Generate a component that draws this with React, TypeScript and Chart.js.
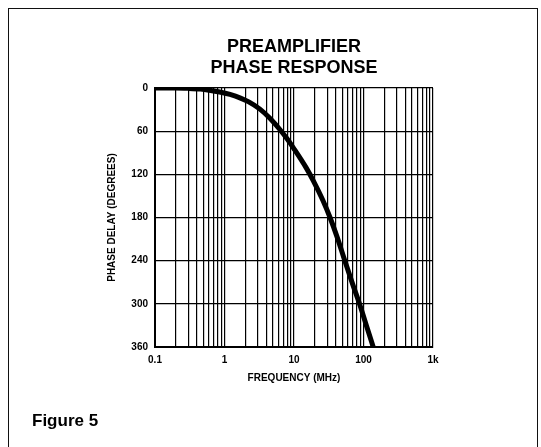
import React, { useEffect, useRef } from "react";
import { Chart, registerables } from "chart.js";

Chart.register(...registerables);

const titleLines = ["PREAMPLIFIER", "PHASE RESPONSE"];
const figureLabel = "Figure 5";
const xAxisTitle = "FREQUENCY (MHz)";
const yAxisTitle = "PHASE DELAY (DEGREES)";

const frequencyMHz = [0.1, 0.2, 0.3, 0.45, 0.6, 0.85, 1.2, 1.7, 2.2, 3.2, 4.5, 6.3, 8, 10, 15, 19, 26, 33, 42, 53, 70, 89, 110, 138];
const phaseDeg = [0, 0, 0.5, 1.5, 3, 5.5, 9, 14, 19, 29, 42, 58, 71, 84.5, 111, 129, 156, 180, 208, 238, 273, 302, 330, 360];

const xTickValues = [0.1, 1, 10, 100, 1000];
const xTickLabels = ["0.1", "1", "10", "100", "1k"];
const yTickValues = [0, 60, 120, 180, 240, 300, 360];

const FONT = "'Liberation Sans', Arial, Helvetica, sans-serif";

export default function App() {
  const ref = useRef<HTMLCanvasElement | null>(null);

  useEffect(() => {
    if (!ref.current) return;

    const textPlugin = {
      id: "textPlugin",
      afterDraw(chart: any) {
        const { ctx, chartArea } = chart;
        ctx.save();
        ctx.fillStyle = "#000";
        ctx.textAlign = "center";
        ctx.textBaseline = "middle";
        ctx.font = `bold 18px ${FONT}`;
        const cx = (chartArea.left + chartArea.right) / 2;
        titleLines.forEach((t, i) => {
          ctx.fillText(t, cx, 38.5 + i * 21);
        });
        ctx.textAlign = "left";
        ctx.font = `bold 17px ${FONT}`;
        ctx.fillText(figureLabel, 23, 412.5);
        ctx.restore();
      },
    };

    const chart = new Chart(ref.current, {
      type: "line",
      data: {
        datasets: [
          {
            data: frequencyMHz.map((f, i) => ({ x: f, y: phaseDeg[i] })),
            borderColor: "#000",
            borderWidth: 5,
            pointRadius: 0,
            cubicInterpolationMode: "monotone",
            fill: false,
          },
        ],
      },
      options: {
        responsive: false,
        animation: false,
        events: [],
        layout: { padding: { left: 97, right: 104, top: 79, bottom: 65 } },
        plugins: {
          legend: { display: false },
          tooltip: { enabled: false },
          title: { display: false },
        },
        scales: {
          x: {
            type: "logarithmic",
            min: 0.1,
            max: 1000,
            afterBuildTicks: (scale: any) => {
              const ticks: any[] = [];
              for (let e = -1; e < 3; e++) {
                for (let s = 1; s <= 9; s++) {
                  ticks.push({ value: s * Math.pow(10, e) });
                }
              }
              ticks.push({ value: 1000 });
              scale.ticks = ticks;
            },
            afterFit: (scale: any) => {
              scale.height = 37;
              scale.paddingLeft = 0;
              scale.paddingRight = 0;
            },
            grid: {
              color: "#000",
              lineWidth: 1.2,
              drawTicks: false,
              tickLength: 0,
            },
            border: { display: true, color: "#000", width: 2 },
            ticks: {
              autoSkip: false,
              maxRotation: 0,
              minRotation: 0,
              padding: 7,
              color: "#000",
              font: { family: FONT, size: 10, weight: "bold" },
              callback: (value: any) => {
                const v = Number(value);
                const idx = xTickValues.findIndex((t) => Math.abs(t - v) / t < 1e-6);
                return idx >= 0 ? xTickLabels[idx] : "";
              },
            },
            title: {
              display: true,
              text: xAxisTitle,
              color: "#000",
              padding: { top: 0, bottom: 0 },
              font: { family: FONT, size: 10, weight: "bold", lineHeight: 1.2 },
            },
          },
          y: {
            type: "linear",
            reverse: true,
            min: 0,
            max: 360,
            afterBuildTicks: (scale: any) => {
              scale.ticks = yTickValues.map((v) => ({ value: v }));
            },
            afterFit: (scale: any) => {
              scale.width = 49;
              scale.paddingTop = 0;
              scale.paddingBottom = 0;
            },
            grid: {
              color: "#000",
              lineWidth: 1.3,
              drawTicks: false,
              tickLength: 0,
            },
            border: { display: true, color: "#000", width: 2 },
            ticks: {
              padding: 7,
              color: "#000",
              font: { family: FONT, size: 10, weight: "bold" },
            },
            title: {
              display: true,
              text: yAxisTitle,
              color: "#000",
              padding: { top: 0, bottom: 0 },
              font: { family: FONT, size: 10, weight: "bold", lineHeight: 1.2 },
            },
          },
        },
      },
      plugins: [textPlugin],
    } as any);

    return () => chart.destroy();
  }, []);

  return (
    <div
      style={{
        position: "fixed",
        left: 8,
        top: 8,
        width: 530,
        height: 470,
        border: "1px solid #111",
        boxSizing: "border-box",
        background: "#fff",
      }}
    >
      <canvas
        ref={ref}
        width={528}
        height={440}
        style={{ position: "absolute", left: 0, top: 0, width: 528, height: 440 }}
      />
    </div>
  );
}
